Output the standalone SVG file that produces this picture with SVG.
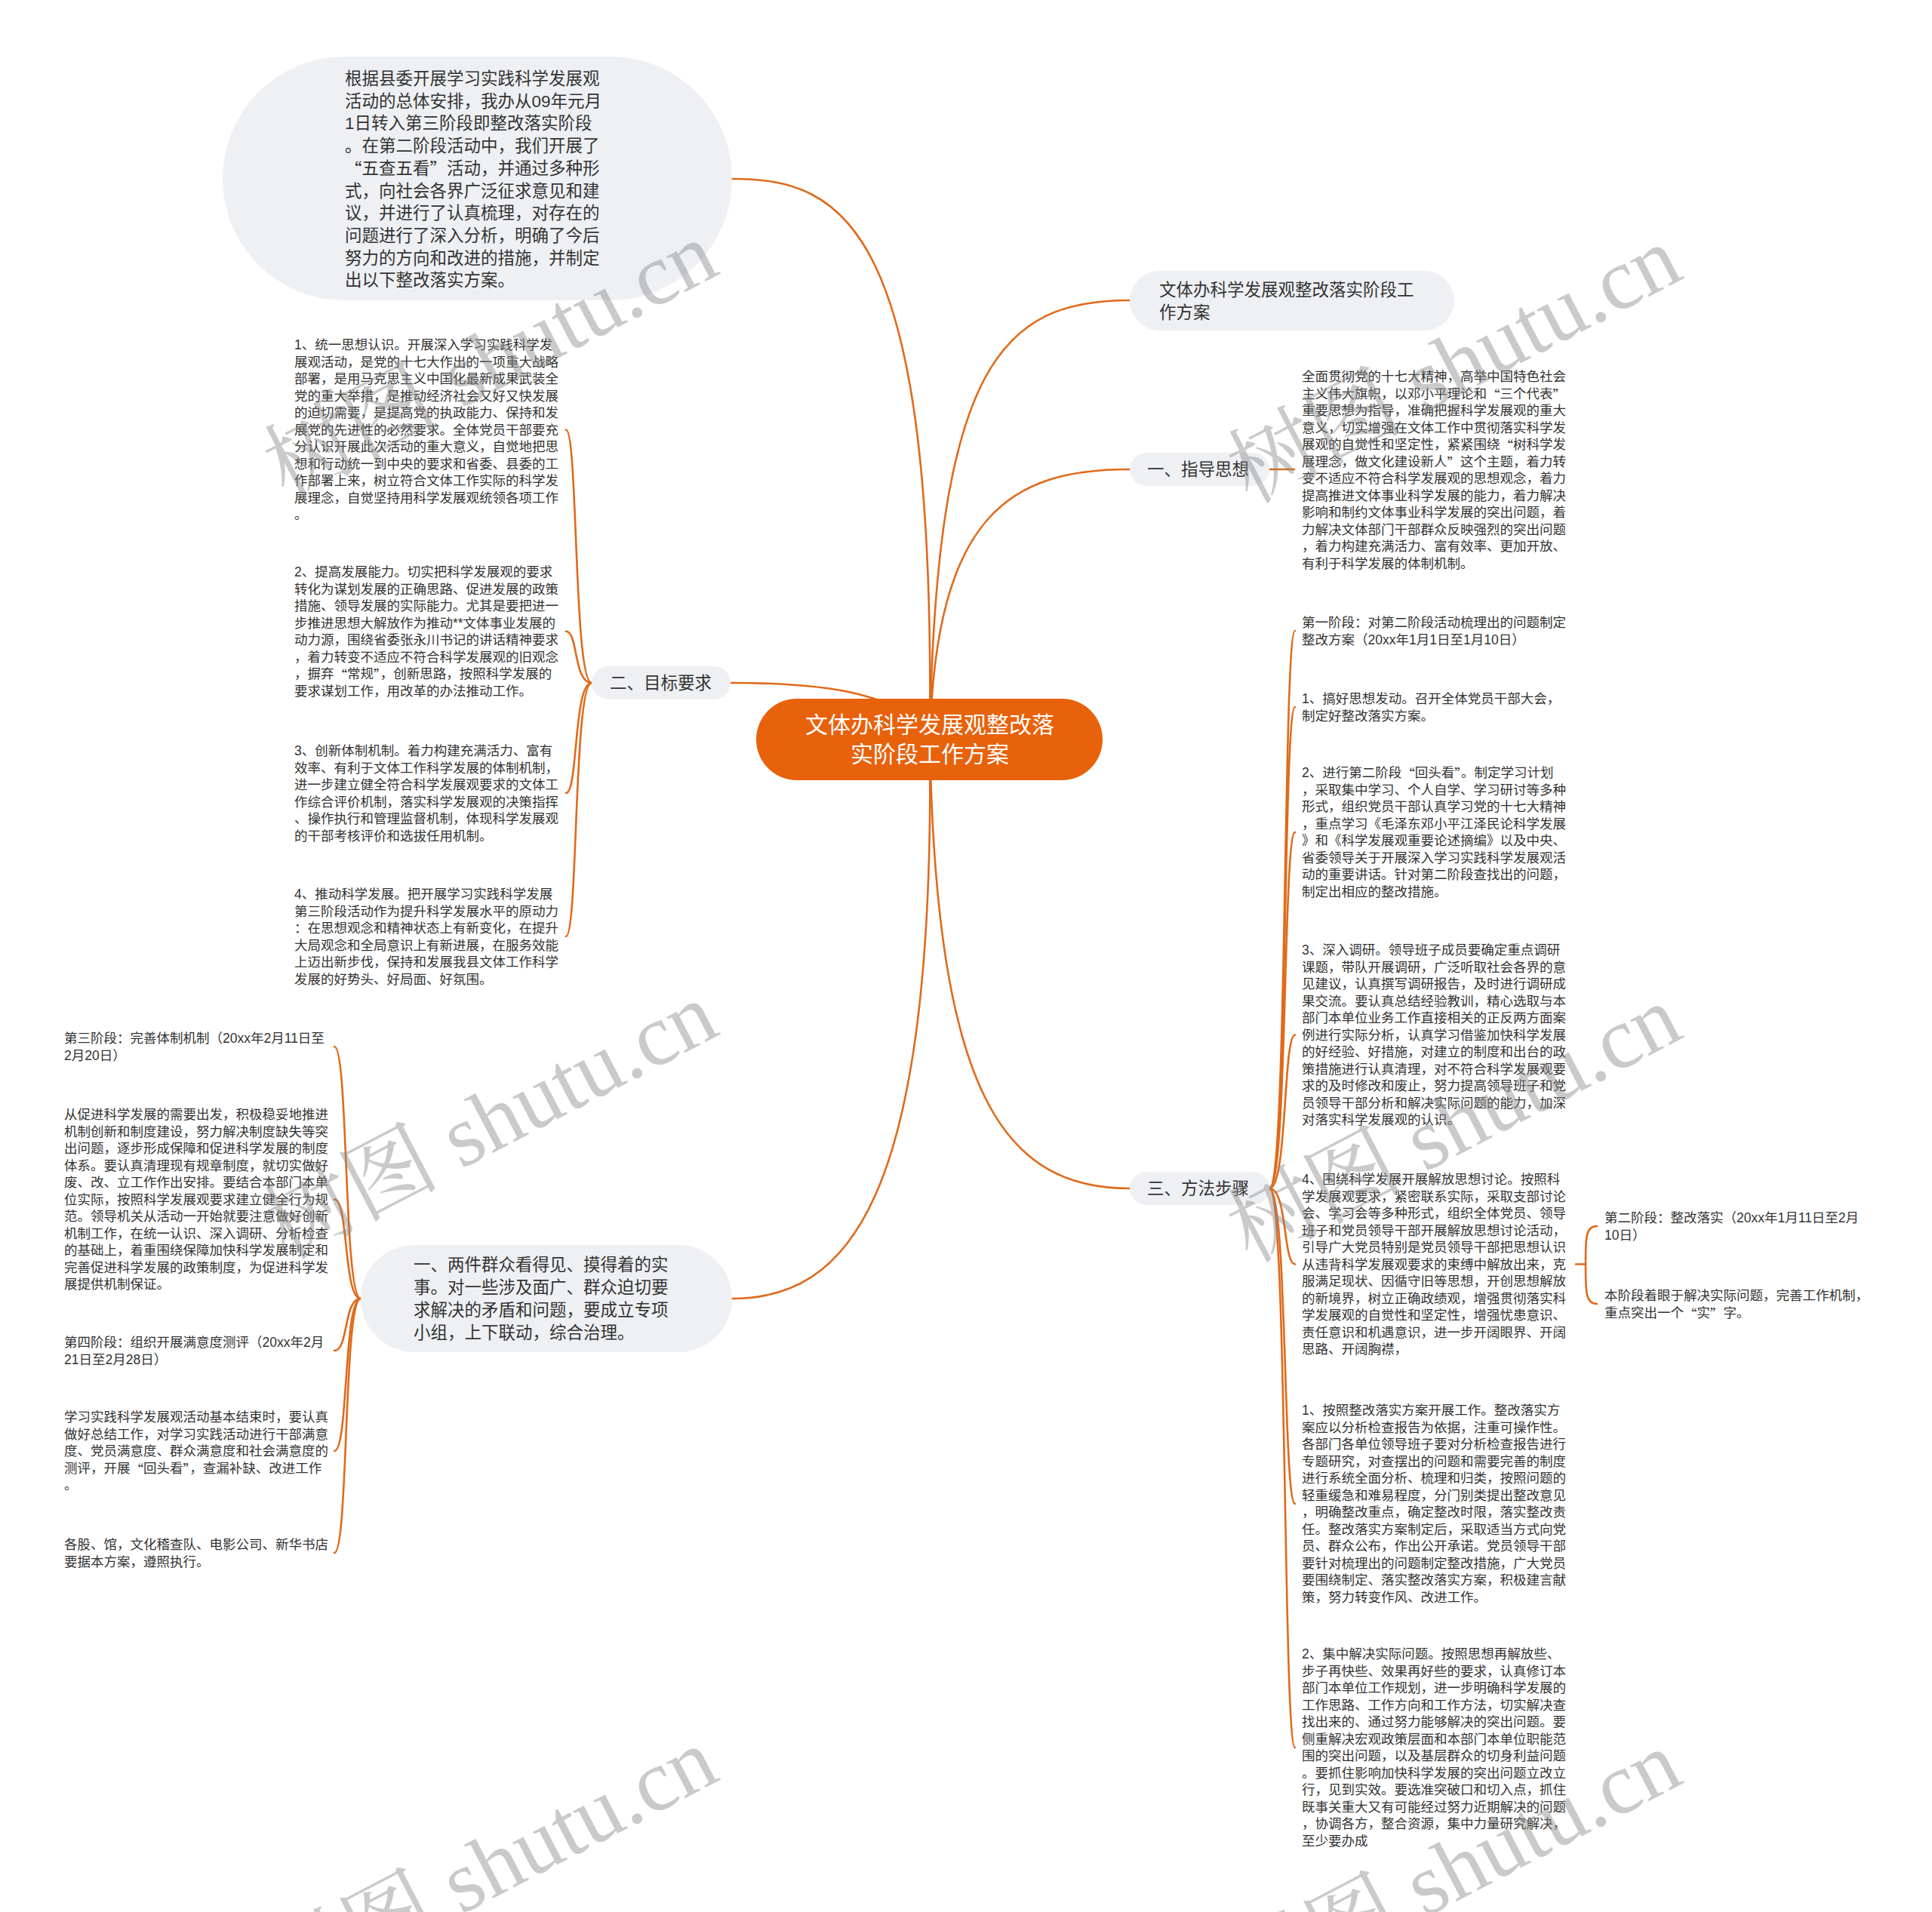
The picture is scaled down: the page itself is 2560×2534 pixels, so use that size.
<svg xmlns="http://www.w3.org/2000/svg" width="2560" height="2534" viewBox="0 0 2560 2534">
<defs>
<style>
.bg{fill:#ffffff}
.pill{fill:#EEF0F3}
.root{fill:#E8620C}
.ln{fill:none;stroke:#E06A1A;stroke-width:2.6;stroke-linecap:round}
.t{font-family:"Liberation Sans","Noto Sans CJK SC",sans-serif;fill:#333333;dominant-baseline:central}
.q{font-family:"Noto Sans CJK SC","Liberation Sans",sans-serif}
.s{font-size:17.5px}
.m{font-size:22.5px}
.r{font-size:30px;fill:#ffffff}
.wm{font-family:"Liberation Serif","Noto Serif CJK SC","Noto Sans CJK SC",serif;font-size:116px;fill:#8a8a8a;fill-opacity:0.45}
</style>
</defs>
<rect class="bg" x="0" y="0" width="2560" height="2534"/>

<g id="connectors">
<path class="ln" d="M1232 980 C1240 300 1120 237 970 237"/>
<path class="ln" d="M1232 980 C1240 480 1330 398 1497 398"/>
<path class="ln" d="M1232 980 C1240 680 1340 622 1497 622"/>
<path class="ln" d="M1232 980 C1200 920 1100 905 968 905"/>
<path class="ln" d="M1232 980 C1240 1450 1330 1575 1497 1575"/>
<path class="ln" d="M1232 980 C1240 1600 1120 1721 970 1721"/>
<path class="ln" d="M784 905 C760 905 766 569.5 750 569.5"/>
<path class="ln" d="M784 905 C760 905 766 836.75 750 836.75"/>
<path class="ln" d="M784 905 C760 905 766 1051 750 1051"/>
<path class="ln" d="M784 905 C760 905 766 1241 750 1241"/>
<path class="ln" d="M1682 622 L1715 622"/>
<path class="ln" d="M1682 1575 C1706 1575 1700 836 1716 836"/>
<path class="ln" d="M1682 1575 C1706 1575 1700 937 1716 937"/>
<path class="ln" d="M1682 1575 C1706 1575 1700 1103 1716 1103"/>
<path class="ln" d="M1682 1575 C1706 1575 1700 1371.5 1716 1371.5"/>
<path class="ln" d="M1682 1575 C1706 1575 1700 1675.5 1716 1675.5"/>
<path class="ln" d="M1682 1575 C1706 1575 1700 1993 1716 1993"/>
<path class="ln" d="M1682 1575 C1706 1575 1700 2316 1716 2316"/>
<path class="ln" d="M2088 1675.5 L2101 1675.5 C2101 1640 2101 1625 2116 1625"/>
<path class="ln" d="M2101 1675.5 C2101 1712 2101 1728 2116 1728"/>
<path class="ln" d="M478 1721 C455 1721 462 1387 443 1387"/>
<path class="ln" d="M478 1721 C455 1721 462 1589.5 443 1589.5"/>
<path class="ln" d="M478 1721 C455 1721 462 1790 443 1790"/>
<path class="ln" d="M478 1721 C455 1721 462 1923 443 1923"/>
<path class="ln" d="M478 1721 C455 1721 462 2058 443 2058"/>
</g>

<g id="root">
<rect class="root" x="1002" y="926" width="459" height="108" rx="54"/>
<text class="t r" text-anchor="middle" x="1232" y="960">文体办科学发展观整改落<tspan x="1232" y="999">实阶段工作方案</tspan></text>
</g>

<g id="intro">
<rect class="pill" x="295" y="75" width="675" height="323" rx="161"/>
<text class="t m" x="457" y="104">根据县委开展学习实践科学发展观<tspan x="457" dy="29.7">活动的总体安排，我办从09年元月</tspan><tspan x="457" dy="29.7">1日转入第三阶段即整改落实阶段</tspan><tspan x="457" dy="29.7">。在第二阶段活动中，我们开展了</tspan><tspan x="457" dy="29.7"><tspan class="q">“</tspan>五查五看<tspan class="q">”</tspan>活动，并通过多种形</tspan><tspan x="457" dy="29.7">式，向社会各界广泛征求意见和建</tspan><tspan x="457" dy="29.7">议，并进行了认真梳理，对存在的</tspan><tspan x="457" dy="29.7">问题进行了深入分析，明确了今后</tspan><tspan x="457" dy="29.7">努力的方向和改进的措施，并制定</tspan><tspan x="457" dy="29.7">出以下整改落实方案。</tspan></text>
</g>

<g id="title-branch">
<rect class="pill" x="1497" y="359" width="430" height="79" rx="39.5"/>
<text class="t m" x="1536" y="384">文体办科学发展观整改落实阶段工<tspan x="1536" dy="30">作方案</tspan></text>
</g>

<g id="branch-1">
<rect class="pill" x="1497" y="600" width="185" height="44" rx="22"/>
<text class="t m" x="1520" y="622">一、指导思想</text>
</g>

<g id="branch-1-text">
<text class="t s" x="1725" y="499">全面贯彻党的十七大精神，高举中国特色社会<tspan x="1725" dy="22.5">主义伟大旗帜，以邓小平理论和<tspan class="q">“</tspan>三个代表<tspan class="q">”</tspan></tspan><tspan x="1725" dy="22.5">重要思想为指导，准确把握科学发展观的重大</tspan><tspan x="1725" dy="22.5">意义，切实增强在文体工作中贯彻落实科学发</tspan><tspan x="1725" dy="22.5">展观的自觉性和坚定性，紧紧围绕<tspan class="q">“</tspan>树科学发</tspan><tspan x="1725" dy="22.5">展理念，做文化建设新人<tspan class="q">”</tspan>这个主题，着力转</tspan><tspan x="1725" dy="22.5">变不适应不符合科学发展观的思想观念，着力</tspan><tspan x="1725" dy="22.5">提高推进文体事业科学发展的能力，着力解决</tspan><tspan x="1725" dy="22.5">影响和制约文体事业科学发展的突出问题，着</tspan><tspan x="1725" dy="22.5">力解决文体部门干部群众反映强烈的突出问题</tspan><tspan x="1725" dy="22.5">，着力构建充满活力、富有效率、更加开放、</tspan><tspan x="1725" dy="22.5">有利于科学发展的体制机制。</tspan></text>
</g>

<g id="branch-2">
<rect class="pill" x="784" y="883" width="184" height="44" rx="22"/>
<text class="t m" x="808" y="905">二、目标要求</text>
</g>

<g id="goal-1">
<text class="t s" x="390" y="457">1、统一思想认识。开展深入学习实践科学发<tspan x="390" dy="22.5">展观活动，是党的十七大作出的一项重大战略</tspan><tspan x="390" dy="22.5">部署，是用马克思主义中国化最新成果武装全</tspan><tspan x="390" dy="22.5">党的重大举措，是推动经济社会又好又快发展</tspan><tspan x="390" dy="22.5">的迫切需要，是提高党的执政能力、保持和发</tspan><tspan x="390" dy="22.5">展党的先进性的必然要求。全体党员干部要充</tspan><tspan x="390" dy="22.5">分认识开展此次活动的重大意义，自觉地把思</tspan><tspan x="390" dy="22.5">想和行动统一到中央的要求和省委、县委的工</tspan><tspan x="390" dy="22.5">作部署上来，树立符合文体工作实际的科学发</tspan><tspan x="390" dy="22.5">展理念，自觉坚持用科学发展观统领各项工作</tspan><tspan x="390" dy="22.5">。</tspan></text>
</g>

<g id="goal-2">
<text class="t s" x="390" y="758">2、提高发展能力。切实把科学发展观的要求<tspan x="390" dy="22.5">转化为谋划发展的正确思路、促进发展的政策</tspan><tspan x="390" dy="22.5">措施、领导发展的实际能力。尤其是要把进一</tspan><tspan x="390" dy="22.5">步推进思想大解放作为推动**文体事业发展的</tspan><tspan x="390" dy="22.5">动力源，围绕省委张永川书记的讲话精神要求</tspan><tspan x="390" dy="22.5">，着力转变不适应不符合科学发展观的旧观念</tspan><tspan x="390" dy="22.5">，摒弃<tspan class="q">“</tspan>常规<tspan class="q">”</tspan>，创新思路，按照科学发展的</tspan><tspan x="390" dy="22.5">要求谋划工作，用改革的办法推动工作。</tspan></text>
</g>

<g id="goal-3">
<text class="t s" x="390" y="995">3、创新体制机制。着力构建充满活力、富有<tspan x="390" dy="22.5">效率、有利于文体工作科学发展的体制机制，</tspan><tspan x="390" dy="22.5">进一步建立健全符合科学发展观要求的文体工</tspan><tspan x="390" dy="22.5">作综合评价机制，落实科学发展观的决策指挥</tspan><tspan x="390" dy="22.5">、操作执行和管理监督机制，体现科学发展观</tspan><tspan x="390" dy="22.5">的干部考核评价和选拔任用机制。</tspan></text>
</g>

<g id="goal-4">
<text class="t s" x="390" y="1185">4、推动科学发展。把开展学习实践科学发展<tspan x="390" dy="22.5">第三阶段活动作为提升科学发展水平的原动力</tspan><tspan x="390" dy="22.5">：在思想观念和精神状态上有新变化，在提升</tspan><tspan x="390" dy="22.5">大局观念和全局意识上有新进展，在服务效能</tspan><tspan x="390" dy="22.5">上迈出新步伐，保持和发展我县文体工作科学</tspan><tspan x="390" dy="22.5">发展的好势头、好局面、好氛围。</tspan></text>
</g>

<g id="branch-3">
<rect class="pill" x="1497" y="1553" width="185" height="44" rx="22"/>
<text class="t m" x="1520" y="1575">三、方法步骤</text>
</g>

<g id="step-a">
<text class="t s" x="1725" y="825">第一阶段：对第二阶段活动梳理出的问题制定<tspan x="1725" dy="22.5">整改方案（20xx年1月1日至1月10日）</tspan></text>
</g>
<g id="step-b">
<text class="t s" x="1725" y="926">1、搞好思想发动。召开全体党员干部大会，<tspan x="1725" dy="22.5">制定好整改落实方案。</tspan></text>
</g>
<g id="step-c">
<text class="t s" x="1725" y="1024">2、进行第二阶段<tspan class="q">“</tspan>回头看<tspan class="q">”</tspan>。制定学习计划<tspan x="1725" dy="22.5">，采取集中学习、个人自学、学习研讨等多种</tspan><tspan x="1725" dy="22.5">形式，组织党员干部认真学习党的十七大精神</tspan><tspan x="1725" dy="22.5">，重点学习《毛泽东邓小平江泽民论科学发展</tspan><tspan x="1725" dy="22.5">》和《科学发展观重要论述摘编》以及中央、</tspan><tspan x="1725" dy="22.5">省委领导关于开展深入学习实践科学发展观活</tspan><tspan x="1725" dy="22.5">动的重要讲话。针对第二阶段查找出的问题，</tspan><tspan x="1725" dy="22.5">制定出相应的整改措施。</tspan></text>
</g>
<g id="step-d">
<text class="t s" x="1725" y="1259">3、深入调研。领导班子成员要确定重点调研<tspan x="1725" dy="22.5">课题，带队开展调研，广泛听取社会各界的意</tspan><tspan x="1725" dy="22.5">见建议，认真撰写调研报告，及时进行调研成</tspan><tspan x="1725" dy="22.5">果交流。要认真总结经验教训，精心选取与本</tspan><tspan x="1725" dy="22.5">部门本单位业务工作直接相关的正反两方面案</tspan><tspan x="1725" dy="22.5">例进行实际分析，认真学习借鉴加快科学发展</tspan><tspan x="1725" dy="22.5">的好经验、好措施，对建立的制度和出台的政</tspan><tspan x="1725" dy="22.5">策措施进行认真清理，对不符合科学发展观要</tspan><tspan x="1725" dy="22.5">求的及时修改和废止，努力提高领导班子和党</tspan><tspan x="1725" dy="22.5">员领导干部分析和解决实际问题的能力，加深</tspan><tspan x="1725" dy="22.5">对落实科学发展观的认识。</tspan></text>
</g>
<g id="step-e">
<text class="t s" x="1725" y="1563">4、围绕科学发展开展解放思想讨论。按照科<tspan x="1725" dy="22.5">学发展观要求，紧密联系实际，采取支部讨论</tspan><tspan x="1725" dy="22.5">会、学习会等多种形式，组织全体党员、领导</tspan><tspan x="1725" dy="22.5">班子和党员领导干部开展解放思想讨论活动，</tspan><tspan x="1725" dy="22.5">引导广大党员特别是党员领导干部把思想认识</tspan><tspan x="1725" dy="22.5">从违背科学发展观要求的束缚中解放出来，克</tspan><tspan x="1725" dy="22.5">服满足现状、因循守旧等思想，开创思想解放</tspan><tspan x="1725" dy="22.5">的新境界，树立正确政绩观，增强贯彻落实科</tspan><tspan x="1725" dy="22.5">学发展观的自觉性和坚定性，增强忧患意识、</tspan><tspan x="1725" dy="22.5">责任意识和机遇意识，进一步开阔眼界、开阔</tspan><tspan x="1725" dy="22.5">思路、开阔胸襟，</tspan></text>
</g>
<g id="step-e-1">
<text class="t s" x="2126" y="1614">第二阶段：整改落实（20xx年1月11日至2月<tspan x="2126" dy="22.5">10日）</tspan></text>
</g>
<g id="step-e-2">
<text class="t s" x="2126" y="1717">本阶段着眼于解决实际问题，完善工作机制，<tspan x="2126" dy="22.5">重点突出一个<tspan class="q">“</tspan>实<tspan class="q">”</tspan>字。</tspan></text>
</g>
<g id="step-f">
<text class="t s" x="1725" y="1869">1、按照整改落实方案开展工作。整改落实方<tspan x="1725" dy="22.5">案应以分析检查报告为依据，注重可操作性。</tspan><tspan x="1725" dy="22.5">各部门各单位领导班子要对分析检查报告进行</tspan><tspan x="1725" dy="22.5">专题研究，对查摆出的问题和需要完善的制度</tspan><tspan x="1725" dy="22.5">进行系统全面分析、梳理和归类，按照问题的</tspan><tspan x="1725" dy="22.5">轻重缓急和难易程度，分门别类提出整改意见</tspan><tspan x="1725" dy="22.5">，明确整改重点，确定整改时限，落实整改责</tspan><tspan x="1725" dy="22.5">任。整改落实方案制定后，采取适当方式向党</tspan><tspan x="1725" dy="22.5">员、群众公布，作出公开承诺。党员领导干部</tspan><tspan x="1725" dy="22.5">要针对梳理出的问题制定整改措施，广大党员</tspan><tspan x="1725" dy="22.5">要围绕制定、落实整改落实方案，积极建言献</tspan><tspan x="1725" dy="22.5">策，努力转变作风、改进工作。</tspan></text>
</g>
<g id="step-g">
<text class="t s" x="1725" y="2192">2、集中解决实际问题。按照思想再解放些、<tspan x="1725" dy="22.5">步子再快些、效果再好些的要求，认真修订本</tspan><tspan x="1725" dy="22.5">部门本单位工作规划，进一步明确科学发展的</tspan><tspan x="1725" dy="22.5">工作思路、工作方向和工作方法，切实解决查</tspan><tspan x="1725" dy="22.5">找出来的、通过努力能够解决的突出问题。要</tspan><tspan x="1725" dy="22.5">侧重解决宏观政策层面和本部门本单位职能范</tspan><tspan x="1725" dy="22.5">围的突出问题，以及基层群众的切身利益问题</tspan><tspan x="1725" dy="22.5">。要抓住影响加快科学发展的突出问题立改立</tspan><tspan x="1725" dy="22.5">行，见到实效。要选准突破口和切入点，抓住</tspan><tspan x="1725" dy="22.5">既事关重大又有可能经过努力近期解决的问题</tspan><tspan x="1725" dy="22.5">，协调各方，整合资源，集中力量研究解决，</tspan><tspan x="1725" dy="22.5">至少要办成</tspan></text>
</g>

<g id="branch-4">
<rect class="pill" x="478" y="1650" width="492" height="142" rx="71"/>
<text class="t m" x="548" y="1676">一、两件群众看得见、摸得着的实<tspan x="548" dy="30">事。对一些涉及面广、群众迫切要</tspan><tspan x="548" dy="30">求解决的矛盾和问题，要成立专项</tspan><tspan x="548" dy="30">小组，上下联动，综合治理。</tspan></text>
</g>

<g id="practice-p">
<text class="t s" x="85" y="1376">第三阶段：完善体制机制（20xx年2月11日至<tspan x="85" dy="22.5">2月20日）</tspan></text>
</g>
<g id="practice-q">
<text class="t s" x="85" y="1477">从促进科学发展的需要出发，积极稳妥地推进<tspan x="85" dy="22.5">机制创新和制度建设，努力解决制度缺失等突</tspan><tspan x="85" dy="22.5">出问题，逐步形成保障和促进科学发展的制度</tspan><tspan x="85" dy="22.5">体系。要认真清理现有规章制度，就切实做好</tspan><tspan x="85" dy="22.5">废、改、立工作作出安排。要结合本部门本单</tspan><tspan x="85" dy="22.5">位实际，按照科学发展观要求建立健全行为规</tspan><tspan x="85" dy="22.5">范。领导机关从活动一开始就要注意做好创新</tspan><tspan x="85" dy="22.5">机制工作，在统一认识、深入调研、分析检查</tspan><tspan x="85" dy="22.5">的基础上，着重围绕保障加快科学发展制定和</tspan><tspan x="85" dy="22.5">完善促进科学发展的政策制度，为促进科学发</tspan><tspan x="85" dy="22.5">展提供机制保证。</tspan></text>
</g>
<g id="practice-r">
<text class="t s" x="85" y="1779">第四阶段：组织开展满意度测评（20xx年2月<tspan x="85" dy="22.5">21日至2月28日）</tspan></text>
</g>
<g id="practice-s">
<text class="t s" x="85" y="1878">学习实践科学发展观活动基本结束时，要认真<tspan x="85" dy="22.5">做好总结工作，对学习实践活动进行干部满意</tspan><tspan x="85" dy="22.5">度、党员满意度、群众满意度和社会满意度的</tspan><tspan x="85" dy="22.5">测评，开展<tspan class="q">“</tspan>回头看<tspan class="q">”</tspan>，查漏补缺、改进工作</tspan><tspan x="85" dy="22.5">。</tspan></text>
</g>
<g id="practice-t">
<text class="t s" x="85" y="2047">各股、馆，文化稽查队、电影公司、新华书店<tspan x="85" dy="22.5">要据本方案，遵照执行。</tspan></text>
</g>

<g id="watermarks">
<text class="wm" text-anchor="middle" transform="translate(668 512) rotate(-27.5)">树图 shutu.cn</text>
<text class="wm" text-anchor="middle" transform="translate(1945 518) rotate(-27.5)">树图 shutu.cn</text>
<text class="wm" text-anchor="middle" transform="translate(668 1520) rotate(-27.5)">树图 shutu.cn</text>
<text class="wm" text-anchor="middle" transform="translate(1945 1524) rotate(-27.5)">树图 shutu.cn</text>
<text class="wm" text-anchor="middle" transform="translate(668 2508) rotate(-27.5)">树图 shutu.cn</text>
<text class="wm" text-anchor="middle" transform="translate(1945 2512) rotate(-27.5)">树图 shutu.cn</text>
</g>
</svg>
